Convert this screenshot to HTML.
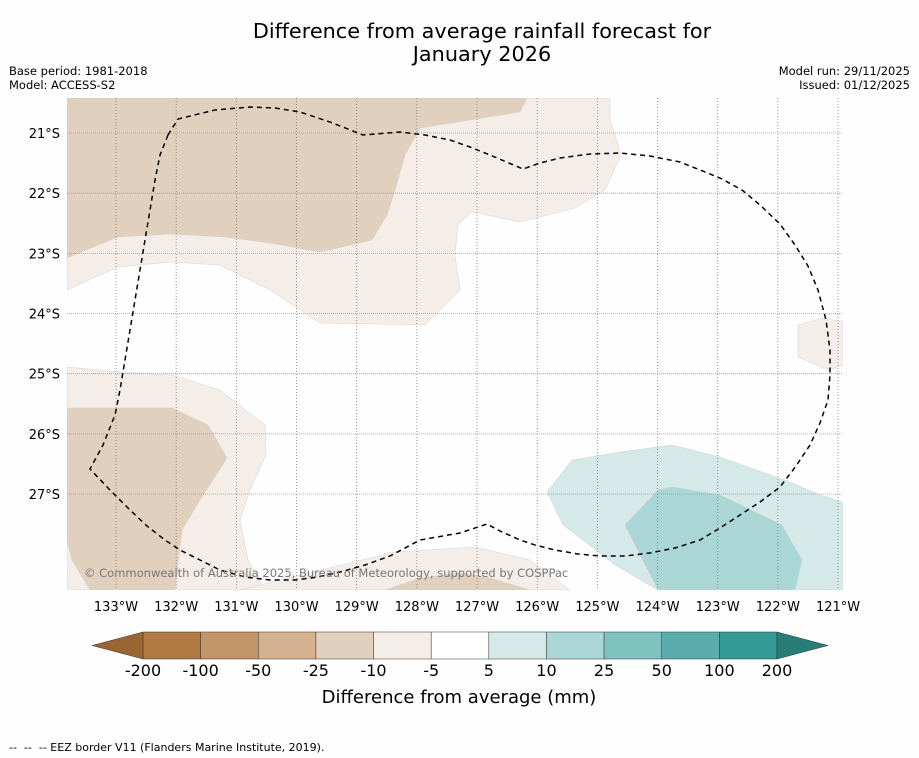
<!DOCTYPE html>
<html><head><meta charset="utf-8"><style>
body{margin:0;background:#fefefe;font-family:"DejaVu Sans","Liberation Sans",sans-serif;}
svg{display:block}
</style></head><body>
<svg id="c" width="919" height="758" xmlns="http://www.w3.org/2000/svg">
<rect width="919" height="758" fill="#fefefe"/>
<text x="482" y="38" font-size="20.8" text-anchor="middle">Difference from average rainfall forecast for</text>
<text x="482" y="61" font-size="20.8" text-anchor="middle">January 2026</text>
<text x="9" y="75" font-size="11.5">Base period: 1981-2018</text>
<text x="9" y="89" font-size="11.5">Model: ACCESS-S2</text>
<text x="910" y="75" font-size="11.5" text-anchor="end">Model run: 29/11/2025</text>
<text x="910" y="89" font-size="11.5" text-anchor="end">Issued: 01/12/2025</text>
<g id="map"></g>
<g id="cbar"></g>
<text x="459" y="703" font-size="18" text-anchor="middle">Difference from average (mm)</text>
<text x="9" y="751" font-size="11" xml:space="preserve">--  --  -- EEZ border V11 (Flanders Marine Institute, 2019).</text>
</svg>
<script>
const NS="http://www.w3.org/2000/svg";
const lonTicks=[-133,-132,-131,-130,-129,-128,-127,-126,-125,-124,-123,-122,-121];
const latTicks=[-21,-22,-23,-24,-25,-26,-27];
const levels=[-200,-100,-50,-25,-10,-5,5,10,25,50,100,200];
const levelColors=["#b07a42","#c29569","#d4b18f","#e2d0bf","#f4ede8","#ffffff","#d5e9e8","#abd6d6","#80c2bf","#59adaa","#339a95"];
const extColors=["#9b6532","#287d78"];
function P(a){return a.map(p=>[-133+(p[0]-116)/60.17,-21-(p[1]-133)/60.17]);}
const contourLight1=P([[67,98],[610,98],[610,120],[621,155],[605,190],[575,208],[520,222],[472,212],[458,225],[455,255],[460,290],[425,325],[320,323],[270,290],[220,265],[170,262],[118,267],[67,290]]);
const contourDark1=P([[67,98],[527,98],[520,112],[420,128],[405,155],[395,190],[387,215],[372,240],[320,252],[270,243],[225,237],[170,234],[118,237],[67,258]]);
const contourLight2=P([[798,325],[823,318],[843,322],[843,365],[828,370],[798,357]]);
const contourLight3=P([[67,367],[120,372],[172,375],[220,390],[265,425],[266,455],[250,490],[240,520],[248,560],[265,590],[67,590]]);
const contourDark2=P([[67,408],[172,408],[208,425],[227,458],[200,500],[182,530],[175,590],[90,590],[72,560],[67,540]]);
const contourLight4=P([[240,590],[300,575],[395,552],[475,547],[530,560],[570,590]]);
const contourDark3=P([[385,590],[420,578],[460,573],[490,578],[530,590]]);
const contourTeal1=P([[547,492],[572,460],[620,452],[672,445],[720,457],[785,480],[820,495],[843,502],[843,590],[658,590],[615,565],[563,525]]);
const contourTeal2=P([[625,525],[658,490],[672,487],[720,495],[782,525],[802,560],[795,590],[658,590]]);
const eez=P([[168,135],[178,119],[215,110],[250,107],[275,108],[300,112],[330,122],[363,135],[400,132],[425,135],[450,140],[470,147],[490,155],[523,169],[540,163],[560,158],[590,154],[620,153],[650,156],[680,162],[720,178],[742,190],[760,205],[780,224],[795,245],[808,266],[818,290],[826,320],[830,350],[830,375],[828,400],[820,423],[810,445],[796,466],[780,487],[760,502],[740,515],[720,528],[700,540],[675,548],[650,553],[625,556],[600,556],[578,554],[555,550],[535,545],[520,540],[500,531],[487,524],[460,533],[420,540],[390,556],[365,565],[340,572],[318,577],[295,580],[270,580],[245,577],[220,570],[200,560],[180,550],[165,540],[147,526],[130,510],[110,490],[90,469],[103,445],[115,415],[120,390],[125,360],[130,330],[135,300],[140,270],[145,240],[150,210],[155,180],[160,155],[168,135]]);
const X0=67,X1=843,Y0=98,Y1=590;
const xs=lon=>116+(lon+133)*60.17;
const ys=lat=>133+(-21-lat)*60.17;
const map=document.getElementById('map');
function mk(t,a,parent){const e=document.createElementNS(NS,t);for(const k in a)e.setAttribute(k,a[k]);(parent||map).appendChild(e);return e;}
const defs=mk('defs',{});
const cp=mk('clipPath',{id:'clip'},defs);mk('rect',{x:X0,y:Y0,width:X1-X0,height:Y1-Y0},cp);
const g=mk('g',{'clip-path':'url(#clip)'});
function poly(pts,fill,name){const e=mk('polygon',{points:pts.map(p=>xs(p[0])+','+ys(p[1])).join(' '),fill:fill,stroke:'#ccc','stroke-width':0.4},g);

}
poly(contourLight1,levelColors[4],'contour-minus5-north');
poly(contourDark1,levelColors[3],'contour-minus10-north');
poly(contourLight2,levelColors[4],'contour-minus5-east');
poly(contourLight3,levelColors[4],'contour-minus5-west');
poly(contourDark2,levelColors[3],'contour-minus10-west');
poly(contourLight4,levelColors[4],'contour-minus5-south');
poly(contourDark3,levelColors[3],'contour-minus10-south');
poly(contourTeal1,levelColors[6],'contour-plus5-southeast');
poly(contourTeal2,levelColors[7],'contour-plus10-southeast');
lonTicks.forEach(l=>{const x=xs(l);
const ln=mk('line',{x1:x,x2:x,y1:Y0,y2:Y1,stroke:'#8a7a70','stroke-width':0.8,'stroke-dasharray':'1,2'},g);


const t=mk('text',{x:x,y:611,'font-size':13,'text-anchor':'middle'});t.textContent=(-l)+'°W';

});
latTicks.forEach(l=>{const y=ys(l);
const ln=mk('line',{x1:X0,x2:X1,y1:y,y2:y,stroke:'#999','stroke-width':0.8,'stroke-dasharray':'1,1'},g);


const t=mk('text',{x:60,y:y+5,'font-size':13,'text-anchor':'end'});t.textContent=(-l)+'°S';

});
const eel=mk('polyline',{points:eez.map(p=>xs(p[0])+','+ys(p[1])).join(' '),fill:'none',stroke:'#000','stroke-width':1.5,'stroke-dasharray':'5,4'},g);


const cr=mk('text',{x:84,y:577,'font-size':11.5,fill:'#777'});cr.textContent='© Commonwealth of Australia 2025, Bureau of Meteorology, supported by COSPPac';


const cb=document.getElementById('cbar');
const bx0=143,bx1=777,by0=632,by1=659,n=levelColors.length,w=(bx1-bx0)/n;
levelColors.forEach((c,i)=>{const r=mk('rect',{x:bx0+i*w,y:by0,width:w,height:by1-by0,fill:c,stroke:'#333','stroke-width':0.5},cb);

});
const e1=mk('polygon',{points:`${bx0},${by0} ${bx0},${by1} 92,${(by0+by1)/2}`,fill:extColors[0],stroke:'#333','stroke-width':0.5},cb);


const e2=mk('polygon',{points:`${bx1},${by0} ${bx1},${by1} 828,${(by0+by1)/2}`,fill:extColors[1],stroke:'#333','stroke-width':0.5},cb);


levels.forEach((v,i)=>{const t=mk('text',{x:bx0+i*w,y:676,'font-size':16,'text-anchor':'middle'},cb);t.textContent=v;

});
</script>
</body></html>
